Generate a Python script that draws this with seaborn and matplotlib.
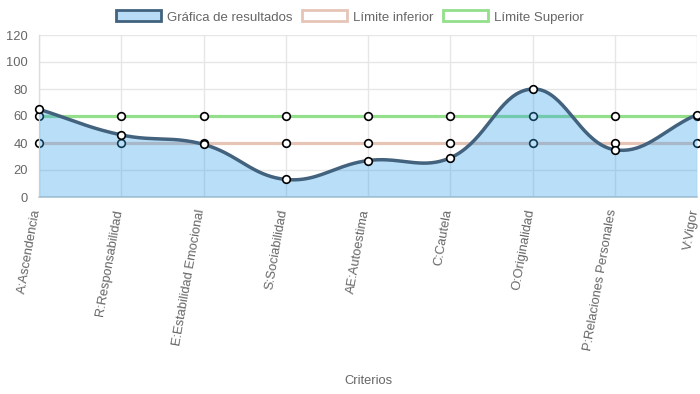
import numpy as np
import pandas as pd
import matplotlib
matplotlib.use("Agg")
import matplotlib.pyplot as plt
import matplotlib.transforms as mtrans
from matplotlib.patches import Patch
import seaborn as sns

criterios = ["A:Ascendencia", "R:Responsabilidad", "E:Estabilidad Emocional",
             "S:Sociabilidad", "AE:Autoestima", "C:Cautela", "O:Originalidad",
             "P:Relaciones Personales", "V:Vigor"]
resultados = [65, 46, 39, 13, 27, 29, 80, 35, 61]
limite_inferior = [40, 40, 40, 40, 40, 40, 40, 40, 40]
limite_superior = [60, 60, 60, 60, 60, 60, 60, 60, 60]
y_ticks = [0, 20, 40, 60, 80, 100, 120]

C_FILL = "#b9dcf6"
C_LINE = "#42627e"
C_INF = "#e6c5b7"
C_SUP = "#93df8c"
C_TEXT = "#666666"


def spline_curve(xs, ys, sx, sy, tension=0.4, steps=40):
    # chart.js style bezier, computed in pixel space (sx, sy = px per unit)
    px = np.asarray(xs, float) * sx
    py = np.asarray(ys, float) * sy
    n = len(px)
    prev_cp, next_cp = [], []
    for i in range(n):
        f = (px[max(i - 1, 0)], py[max(i - 1, 0)])
        m = (px[i], py[i])
        a = (px[min(i + 1, n - 1)], py[min(i + 1, n - 1)])
        d01 = np.hypot(m[0] - f[0], m[1] - f[1])
        d12 = np.hypot(a[0] - m[0], a[1] - m[1])
        tot = d01 + d12
        s01 = d01 / tot if tot else 0
        s12 = d12 / tot if tot else 0
        fa, fb = tension * s01, tension * s12
        prev_cp.append((m[0] - fa * (a[0] - f[0]), m[1] - fa * (a[1] - f[1])))
        next_cp.append((m[0] + fb * (a[0] - f[0]), m[1] + fb * (a[1] - f[1])))
    t = np.linspace(0, 1, steps)[:, None]
    out = []
    for i in range(n - 1):
        p0 = np.array([px[i], py[i]])
        p1 = np.array(next_cp[i])
        p2 = np.array(prev_cp[i + 1])
        p3 = np.array([px[i + 1], py[i + 1]])
        p1[1] = np.clip(p1[1], 0, 120 * sy)
        p2[1] = np.clip(p2[1], 0, 120 * sy)
        seg = ((1 - t) ** 3) * p0 + 3 * ((1 - t) ** 2) * t * p1 + 3 * (1 - t) * t ** 2 * p2 + t ** 3 * p3
        out.append(seg if i == 0 else seg[1:])
    pts = np.vstack(out)
    return pts[:, 0] / sx, pts[:, 1] / sy


df = pd.DataFrame({
    "idx": np.arange(len(criterios)),
    "criterio": criterios,
    "resultados": resultados,
    "inferior": limite_inferior,
    "superior": limite_superior,
})

sns.set_theme(style="whitegrid")
plt.rcParams["font.family"] = ["Liberation Sans", "DejaVu Sans"]

fig = plt.figure(figsize=(7, 3.94), dpi=100)
ax = fig.add_axes([39 / 700, 1 - 197 / 394, 658 / 700, 162 / 394])

mk = dict(marker="o", markersize=5.5, markerfacecolor="white",
          markeredgecolor="black", markeredgewidth=1.2, clip_on=False)

sns.lineplot(data=df, x="idx", y="inferior", ax=ax, color=C_INF, linewidth=2.3,
             zorder=2, **mk)
sns.lineplot(data=df, x="idx", y="superior", ax=ax, color=C_SUP, linewidth=2.3,
             zorder=2, **mk)

sx = 658 / 8
sy = 162 / 120
cx, cy = spline_curve(df["idx"], df["resultados"], sx, sy)
ax.fill_between(cx, 0, cy, color="#36a2eb", alpha=0.35, linewidth=0, zorder=3)
ax.plot(cx, cy, color=C_LINE, linewidth=2.5, zorder=4, solid_capstyle="round")
sns.scatterplot(data=df, x="idx", y="resultados", ax=ax, s=30, color="white",
                edgecolor="black", linewidth=1.2, zorder=5, clip_on=False)

ax.set_xlim(0, 8)
ax.set_ylim(0, 120)
ax.set_yticks(y_ticks)
ax.set_xticks(df["idx"])
ax.set_xticklabels(criterios, rotation=80, ha="right", va="center",
                   rotation_mode="anchor")
ax.tick_params(axis="both", labelsize=9.3, colors=C_TEXT, length=5,
               color="#e0e0e0", width=1, pad=3)
ax.tick_params(axis="x", pad=4)
# nudge rotated labels a little to the left, as in the original
shift = mtrans.ScaledTranslation(-2 / 100, 0, fig.dpi_scale_trans)
for lbl in ax.get_xticklabels():
    lbl.set_transform(lbl.get_transform() + shift)
ax.grid(True, color="#e6e6e6", linewidth=1)
ax.set_xlabel("")
ax.set_ylabel("")
for s in ["top", "right"]:
    ax.spines[s].set_visible(False)
ax.spines["left"].set_color("#dddddd")
ax.spines["bottom"].set_color("#cccccc")
ax.spines["left"].set_linewidth(1)
ax.spines["bottom"].set_linewidth(1.2)

fig.text(368 / 700, 1 - 381 / 394, "Criterios", ha="center", va="center",
         fontsize=9.3, color=C_TEXT)

handles = [
    Patch(facecolor=C_FILL, edgecolor=C_LINE, linewidth=2),
    Patch(facecolor="white", edgecolor=C_INF, linewidth=2),
    Patch(facecolor="white", edgecolor=C_SUP, linewidth=2),
]
fig.legend(handles, ["Gráfica de resultados", "Límite inferior", "Límite Superior"],
           loc="center", bbox_to_anchor=(0.5, 1 - 17 / 394), ncol=3, frameon=False,
           fontsize=9.5, labelcolor=C_TEXT, handlelength=3.4, handleheight=0.9,
           handletextpad=0.45, columnspacing=0.75)

fig.savefig("out.png", dpi=100)
